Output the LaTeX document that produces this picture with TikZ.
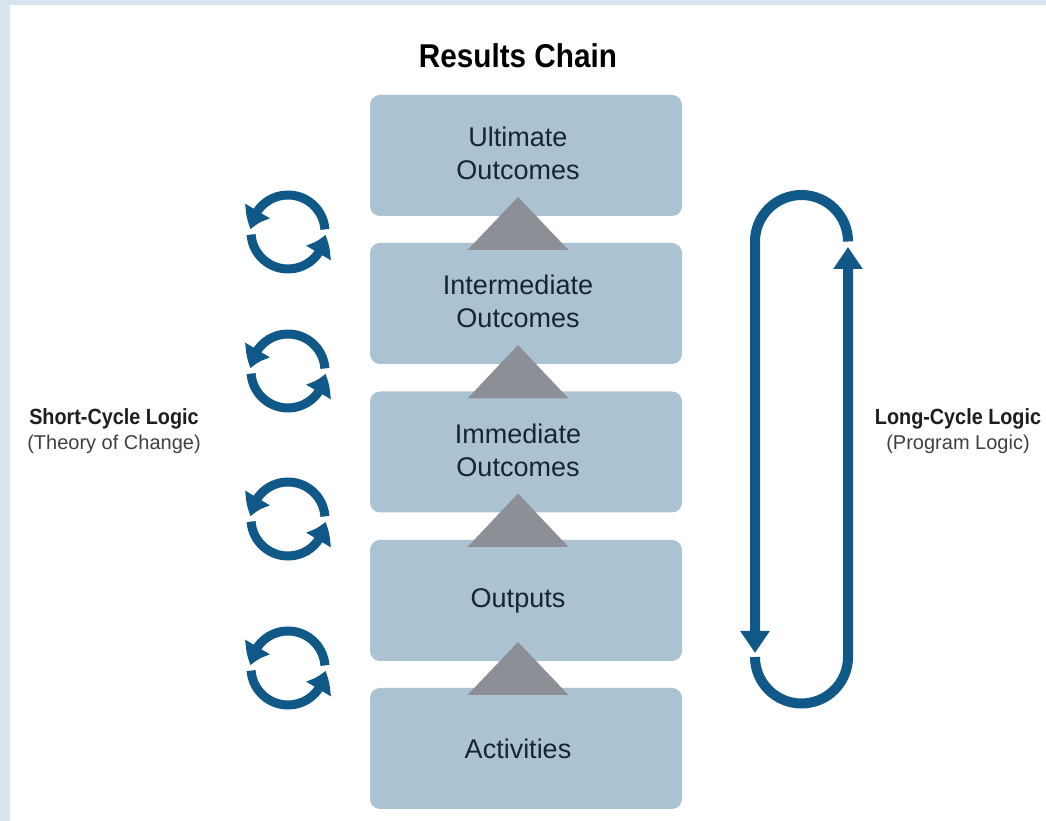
\documentclass[tikz,border=0pt]{standalone}
\usepackage{fontspec}
\setmainfont{Liberation Sans}
\newfontfamily\condsans[FakeStretch=0.9]{Liberation Sans}
\usetikzlibrary{arrows.meta,bending}

\definecolor{panelblue}{RGB}{214,228,240}
\definecolor{boxfill}{RGB}{171,194,210}
\definecolor{trigray}{RGB}{141,143,150}
\definecolor{cycleblue}{RGB}{16,88,136}
\definecolor{boxtext}{RGB}{22,36,52}
\definecolor{labeltext}{RGB}{30,30,30}

\begin{document}
\begin{tikzpicture}[x=1pt,y=1pt,
  stagebox/.style={fill=boxfill, rounded corners=10pt, minimum width=312pt,
    minimum height=121pt, inner sep=0pt},
  stagetext/.style={text=boxtext, font=\fontsize{27}{33}\selectfont,
    align=center, inner sep=0pt},
  uptri/.style={fill=trigray},
  cyclearc/.style={draw=cycleblue, line width=9pt,
    -{Triangle[length=20pt,width=27pt,bend]}},
  looparrow/.style={draw=cycleblue, line width=10pt,
    -{Triangle[length=22pt,width=28pt]}},
  sidehead/.style={text=labeltext, font=\condsans\bfseries\fontsize{22}{26}\selectfont, inner sep=0pt},
  sidesub/.style={text=labeltext!85, font=\fontsize{20}{24}\selectfont, inner sep=0pt},
  titletext/.style={text=black, font=\condsans\bfseries\fontsize{33}{38}\selectfont, inner sep=0pt}]

% page background and white panel
\useasboundingbox (0,0) rectangle (1046,821);
\fill[panelblue] (0,0) rectangle (1046,821);
\fill[white] (10,0) rectangle (1046,816);

% title
\node[titletext, anchor=base] (title) at (518,753) {Results Chain};

% stages of the results chain
\node[stagebox] (ult) at (526,665.5) {};
\node[stagebox] (inter) at (526,517.5) {};
\node[stagebox] (imm) at (526,369) {};
\node[stagebox] (outp) at (526,220.5) {};
\node[stagebox] (act) at (526,72.5) {};

\node[stagetext] (tult) at (518,667.5) {Ultimate\\Outcomes};
\node[stagetext] (tinter) at (518,519.5) {Intermediate\\Outcomes};
\node[stagetext] (timm) at (518,371) {Immediate\\Outcomes};
\node[stagetext] (toutp) at (518,220.5) {Outputs};
\node[stagetext] (tact) at (518,72.5) {Activities};

% grey triangles linking successive stages
\foreach \apex/\base in {624/571, 476/422.5, 327.5/274, 179/126} {
  \fill[uptri] (518,\apex) -- (568.5,\base) -- (467.5,\base) -- cycle;
}

% short-cycle refresh icons
\foreach \cy [count=\i] in {589,450,302,153} {
  \coordinate (cyc\i) at (288,\cy);
  \draw[cyclearc] ([shift={(4:37)}]cyc\i) arc[start angle=4, end angle=176, radius=37];
  \draw[cyclearc] ([shift={(184:37)}]cyc\i) arc[start angle=184, end angle=356, radius=37];
}

% long-cycle loop
\coordinate (loopTR) at (848,579.5);
\coordinate (loopBL) at (755,164);
\draw[looparrow] (loopTR) arc[start angle=0, end angle=180, radius=46.5] -- (755,168);
\draw[looparrow] (loopBL) arc[start angle=180, end angle=360, radius=46.5] -- (848,574);

% side labels
\node[sidehead, anchor=base] (shorthead) at (114,396) {Short-Cycle Logic};
\node[sidesub, anchor=base] (shortsub) at (114,371) {(Theory of Change)};
\node[sidehead, anchor=base] (longhead) at (958,396) {Long-Cycle Logic};
\node[sidesub, anchor=base] (longsub) at (958,371) {(Program Logic)};
\end{tikzpicture}
\end{document}
